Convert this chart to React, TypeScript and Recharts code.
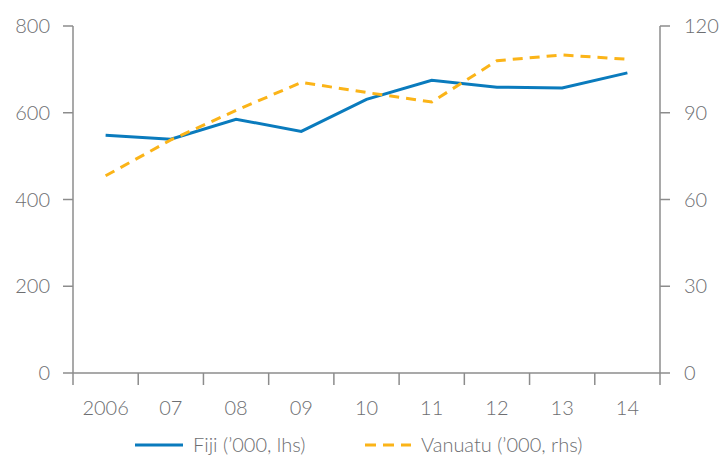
import React from 'react';
import { LineChart, Line, XAxis, YAxis, Legend } from 'recharts';

const categories = ['2006', '07', '08', '09', '10', '11', '12', '13', '14'];
const fiji = [548, 539, 585, 557, 631, 675, 659, 657, 692];
const vanuatu = [68.2, 80.6, 90.8, 100.5, 97, 93.7, 108, 110, 108.5];
const leftTicks = [0, 200, 400, 600, 800];
const rightTicks = [0, 30, 60, 90, 120];

const data = categories.map((c, i) => ({ i, label: c, fiji: fiji[i], vanuatu: vanuatu[i] }));
const xTicks: number[] = [];
for (let k = 0; k <= categories.length * 2; k++) xTicks.push(-0.5 + k * 0.5);

const AXIS = '#8c8c8c';
const TEXT = '#6d6e71';
const BLUE = '#0a7bbd';
const ORANGE = '#fbb418';
const FONT = 'Lato, "Open Sans", sans-serif';
const WEIGHT = 300;

const XTick = (props: any) => {
  const { x, y, payload } = props;
  const v = payload.value as number;
  if (Math.abs(v - Math.round(v)) > 0.1) {
    return <line x1={x} x2={x} y1={y} y2={y + 12} stroke={AXIS} strokeWidth={1.5} />;
  }
  return (
    <text x={x} y={y + 35} dy="0.355em" textAnchor="middle" fill={TEXT} fontSize={20} fontWeight={WEIGHT} fontFamily={FONT}>
      {categories[Math.round(v)]}
    </text>
  );
};

const LegendContent = () => (
  <div style={{ position: 'relative', width: 719, height: 33 }}>
    <svg width={719} height={33} style={{ position: 'absolute', left: 0, top: 0 }}>
      <line x1={135} x2={183} y1={22} y2={22} stroke={BLUE} strokeWidth={3} />
      <line x1={365} x2={411} y1={22} y2={22} stroke={ORANGE} strokeWidth={3} strokeDasharray="11 7" />
      <text x={193} y={22} dy="0.355em" fill={TEXT} fontSize={20} fontWeight={WEIGHT} fontFamily={FONT}>Fiji (’000, lhs)</text>
      <text x={421} y={22} dy="0.355em" fill={TEXT} fontSize={20} fontWeight={WEIGHT} fontFamily={FONT}>Vanuatu (’000, rhs)</text>
    </svg>
  </div>
);

export default function App() {
  return (
    <div style={{ position: 'absolute', left: 0, top: 0, width: 719, height: 456, background: '#fff' }}>
      <LineChart width={719} height={456} data={data} margin={{ top: 26, right: 0, left: 0, bottom: 0 }}>
        <XAxis
          dataKey="i"
          type="number"
          domain={[-0.5, 8.5]}
          ticks={xTicks}
          interval={0}
          allowDecimals
          tickLine={false}
          tickSize={0}
          tickMargin={0}
          height={50}
          axisLine={{ stroke: AXIS, strokeWidth: 1.5 }}
          tick={<XTick />}
        />
        <YAxis
          yAxisId="left"
          orientation="left"
          domain={[0, 800]}
          ticks={leftTicks}
          width={73}
          tickSize={10}
          tickMargin={13}
          axisLine={{ stroke: AXIS, strokeWidth: 1.5 }}
          tickLine={{ stroke: AXIS, strokeWidth: 1.5 }}
          tick={{ fill: TEXT, fontSize: 20, fontFamily: FONT, fontWeight: WEIGHT }}
        />
        <YAxis
          yAxisId="right"
          orientation="right"
          domain={[0, 120]}
          ticks={rightTicks}
          width={59}
          tickSize={10}
          tickMargin={14}
          axisLine={{ stroke: AXIS, strokeWidth: 1.5 }}
          tickLine={{ stroke: AXIS, strokeWidth: 1.5 }}
          tick={{ fill: TEXT, fontSize: 20, fontFamily: FONT, fontWeight: WEIGHT, textAnchor: 'start' }}
        />
        <Legend verticalAlign="bottom" height={33} content={<LegendContent />} />
        <Line yAxisId="left" dataKey="fiji" stroke={BLUE} strokeWidth={3} dot={false} isAnimationActive={false} />
        <Line yAxisId="right" dataKey="vanuatu" stroke={ORANGE} strokeWidth={3} strokeDasharray="10 7" dot={false} isAnimationActive={false} />
      </LineChart>
    </div>
  );
}
